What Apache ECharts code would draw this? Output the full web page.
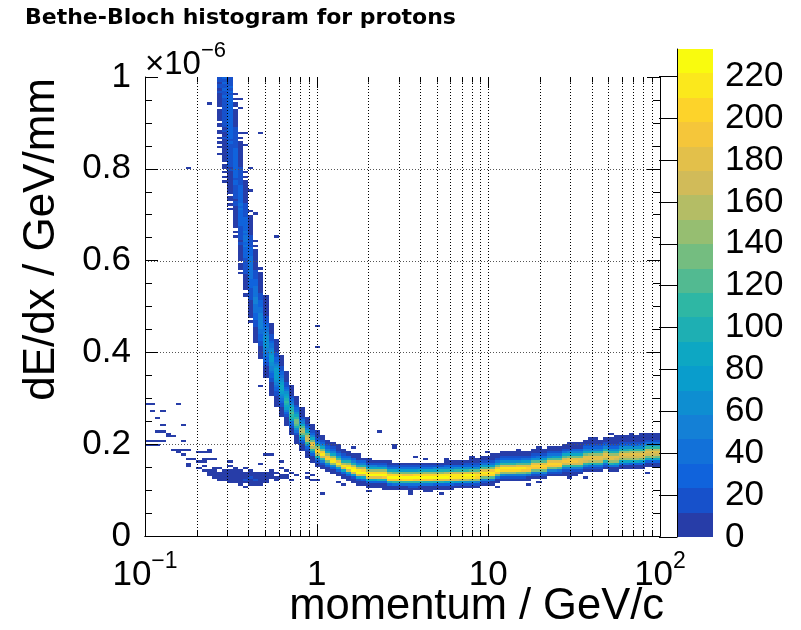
<!DOCTYPE html>
<html><head><meta charset="utf-8">
<script src="https://cdn.jsdelivr.net/npm/echarts@6/dist/echarts.min.js"></script>
<style>html,body{margin:0;padding:0;background:#fff}#c{width:801px;height:630px}</style>
</head><body><div id="c"></div>
<script>
// ---------------- data ----------------
const titleText = 'Bethe-Bloch histogram for protons';
const xTitle = 'momentum / GeV/c';
const yTitle = 'dE/dx / GeV/mm';
const nXBins = 100, xMin = 0.1, xMax = 100;      // log-uniform momentum bins
const nYBins = 200, yMin = 0, yMaxVal = 1.0;     // dE/dx in units of 1e-6 GeV/mm
const zMax = 233, nLevels = 20;                  // colour scale
const xMajorTicks = [0.1, 1, 10, 100];
const xMinorTicks = [0.2,0.3,0.4,0.5,0.6,0.7,0.8,0.9,2,3,4,5,6,7,8,9,20,30,40,50,60,70,80,90];
const yGridValues = [0.2, 0.4, 0.6, 0.8];
const zTickValues = [0,20,40,60,80,100,120,140,160,180,200,220];

// main band: one entry per momentum bin, starting at bin bandFirstCol
const bandFirstCol = 14;
const bandStart = [166,154,142,130,114,104,93,84,77,69,61,56,52,48,44,40,37,34,32,30,29,28,27,26,25,24,23,22,22,21,21,21,
  20,20,20,20,20,19,20,20,20,20,20,20,20,20,21,21,21,21,21,22,22,22,23,24,24,24,24,24,24,25,25,25,26,26,26,26,26,26,27,28,28,28,28,29,28,28,29,29,29,29,29,30,30,30];
const bandCounts = [
 [2,0,0,3,0,1,0,4,0,2,5,0,3,6,0,4,7,2,5,8,0,6,9,4,11,7,10,13,8,12,15,10,14,17],
 [1,0,2,0,3,0,2,4,0,5,3,6,4,8,5,7,10,6,9,12,8,11,14,10,13,16,12,15,18,14,17,20,15,19,22,17,21,24,18,22,25,20,23,26,21,24],
 [1,0,2,0,1,3,0,4,2,5,3,6,8,5,9,7,11,13,10,14,12,16,18,15,19,17,21,23,20,24,22,26,28,24,27,25,29,27,30,26,28,31,27,29,25,28,30,26,24,27,23,25,22,24,20,23,21,22],
 [1,0,2,0,3,1,4,2,5,7,4,8,10,7,12,14,11,16,18,15,20,22,19,24,26,23,28,30,27,31,33,29,32,30,27,29,26,24,27,22,20,23,18,16,19,14,12,15,10,8,11,6,5,7,3,4,0,2,3,0,1,0,2],
 [1,0,2,1,3,0,4,3,6,5,8,7,10,12,11,15,17,16,20,22,21,25,27,26,30,32,31,34,36,33,35,32,34,30,31,27,28,24,25,21,22,18,19,15,16,12,13,10,9,7,8,5,6,3,4,2,3,1,0,2,0,1,0],
 [1,2,0,3,4,6,5,8,10,9,13,15,14,18,20,22,21,25,28,27,31,33,35,34,38,36,37,34,35,31,32,28,29,25,24,21,20,17,16,13,12,10,9,7,6,5,3,4,2,1,2,0,1,0,1],
 [1,0,2,3,5,4,7,9,11,10,14,16,19,18,23,26,28,31,33,36,38,40,42,41,43,39,40,36,35,31,29,26,24,21,19,16,14,12,10,8,6,5,4,3,2,2,1,0,1,0],
 [1,2,3,4,6,8,11,14,17,21,24,28,32,36,40,43,46,48,47,49,46,44,41,39,35,32,29,25,22,19,16,13,11,9,7,5,4,3,2,1,2,0,1,0,1],
 [1,2,3,5,8,11,15,19,24,29,34,39,44,49,52,55,56,54,51,48,44,40,36,32,28,24,20,17,14,11,9,7,5,4,3,2,1,1,0,1],
 [1,2,4,6,9,13,18,24,30,37,44,51,57,62,65,66,64,60,55,49,43,37,31,26,21,17,13,10,8,6,4,3,2,1,1,1],
 [1,1,2,4,6,9,13,18,24,31,39,47,55,62,68,72,73,71,66,59,51,43,35,28,22,17,12,9,6,4,2,1],
 [1,2,3,5,8,12,18,25,34,44,54,64,72,78,80,77,70,61,51,42,33,26,19,14,10,7,5,3,2,1],
 [1,2,4,7,12,19,29,41,55,69,81,90,93,90,81,69,56,44,33,24,17,12,8,5,3,2,1],
 [1,3,6,11,20,33,50,70,89,103,108,104,92,76,59,43,30,20,13,8,5,3,2,1],
 [1,3,7,14,27,46,70,95,114,122,116,99,78,57,39,25,15,9,5,3,2,1],
 [1,2,5,11,22,40,66,97,124,138,133,114,88,63,42,26,15,9,5,3,1],
 [1,3,7,16,34,62,100,138,158,150,122,88,58,35,20,11,6,3,1],
 [1,2,6,15,34,66,110,152,172,160,125,86,54,31,17,9,4,2],
 [1,4,11,28,60,110,162,190,175,134,90,55,31,16,8,4,2],
 [2,6,18,45,95,158,203,192,145,96,58,32,17,8,4,2],
 [2,7,20,50,108,172,212,190,138,88,52,28,14,6,3],
 [3,9,26,66,138,205,196,142,90,52,28,14,6,2],
 [2,8,24,64,140,212,200,140,86,48,25,12,5,2],
 [3,10,30,80,160,216,178,118,70,38,19,9,4,1],
 [2,11,34,92,180,218,162,98,55,29,14,6,2],
 [1,6,24,80,170,222,205,150,95,52,25,10,3],
 [1,5,22,75,165,224,210,155,98,54,26,10,3],
 [1,5,22,78,168,226,212,158,100,55,26,10,3],
 [2,6,24,82,172,224,208,152,96,52,24,8],
 [1,6,26,88,178,228,206,148,92,50,23,9,3],
 [2,7,28,92,182,229,204,144,88,47,21,8],
 [1,8,30,96,186,227,202,140,85,45,20,8],
 [1,3,10,34,104,190,225,206,142,88,46,20,7],
 [2,9,34,102,190,230,204,140,84,44,19,7,2],
 [2,10,36,106,194,229,200,136,82,42,18,6],
 [3,11,38,108,196,227,198,134,80,41,17,6],
 [2,10,37,110,198,231,196,132,78,40,17,6],
 [1,3,12,40,112,200,233,195,130,77,39,16,5],
 [3,12,39,108,195,229,199,135,81,42,18,6],
 [2,11,38,106,193,230,201,137,83,43,18,6],
 [3,11,36,104,191,228,204,140,85,44,19,7],
 [2,10,35,102,189,226,206,143,88,46,20,7],
 [2,9,33,98,186,225,209,147,91,48,21,8],
 [2,8,31,94,182,224,212,151,94,50,22,8],
 [1,7,28,88,176,222,216,158,99,53,24,9,3],
 [1,6,25,82,170,220,219,163,104,56,26,10,3],
 [5,22,76,164,218,220,168,108,59,28,11,4],
 [5,21,73,160,216,221,172,111,61,29,11,4],
 [4,19,69,156,214,222,176,114,63,30,12,4],
 [4,17,64,150,210,222,180,118,66,32,13,5,1],
 [2,12,52,140,206,220,182,122,69,34,14,5,1],
 [3,13,50,136,204,219,184,125,71,35,15,6,2],
 [3,12,47,132,202,218,186,128,73,36,15,6,2],
 [2,11,44,127,199,216,188,131,76,38,16,6,2],
 [2,10,40,120,194,214,190,134,78,40,17,7,2],
 [4,18,62,150,205,212,168,110,62,31,13,5,1],
 [3,16,58,146,203,213,171,113,64,32,14,5,1],
 [3,15,55,142,200,212,174,116,66,33,14,5,2],
 [3,14,52,138,198,211,177,119,68,34,15,6,2],
 [2,12,48,132,195,210,180,122,70,35,15,6,2],
 [2,11,45,128,192,208,182,125,72,36,16,6,2],
 [3,14,52,136,196,206,176,118,67,34,15,6,2],
 [3,13,50,133,194,206,178,121,69,35,15,6,2],
 [2,12,47,129,191,205,180,124,71,36,16,6,2],
 [3,14,52,134,193,203,175,120,68,35,15,6,2],
 [3,13,49,130,190,202,177,123,70,36,16,6,2],
 [2,12,46,126,187,201,179,126,72,37,16,6,2],
 [1,5,18,54,116,172,190,174,128,82,46,22,10,4],
 [1,5,17,52,113,170,189,176,131,84,47,23,10,4],
 [1,4,15,49,110,168,188,178,134,87,49,24,11,4,2],
 [4,16,50,110,166,186,178,134,88,50,25,11,5,2],
 [4,15,48,108,164,185,179,137,90,51,26,12,5,2],
 [3,14,45,104,161,184,180,140,92,53,27,12,5,2,1],
 [3,13,42,100,158,182,181,143,95,55,28,13,6,2,1],
 [4,14,44,102,158,180,179,144,96,56,29,14,6,2],
 [4,13,42,99,155,179,179,146,98,57,29,14,6,2],
 [2,11,38,95,151,176,180,148,100,59,30,14,6,3,1],
 [2,11,36,91,148,174,181,150,102,60,31,15,7,3,1],
 [2,11,37,92,148,173,179,149,101,60,31,15,7,3,1],
 [2,11,36,90,146,172,179,151,103,61,32,16,7,3,1],
 [2,10,34,87,143,170,179,153,105,63,33,16,7,3,1],
 [2,10,33,84,140,168,178,154,107,64,34,17,8,3,1],
 [1,9,31,80,136,166,178,156,109,66,35,17,8,3,1,1],
 [2,9,32,82,138,166,177,155,109,66,36,18,8,4,1],
 [2,10,33,84,140,167,176,154,108,65,35,17,8,3,1],
 [2,9,32,82,138,166,177,156,110,67,36,18,8,3,1]
];
// scattered cells: [momentum bin, dE/dx bin, count]
const extraCells = [
 [0,57,2],[1,57,1],[6,57,1],[1,54,3],[3,54,4],[2,51,3],[3,48,5],[7,48,4],[2,45,2],[3,45,2],[4,44,6],[4,43,5],[5,43,4],
 [0,41,3],[1,41,5],[2,41,4],[3,41,6],[7,41,3],[0,39,8],[1,39,7],[2,39,6],[5,37,5],[6,37,4],[6,36,6],[7,37,3],[8,37,3],[7,35,5],[8,33,4],[9,33,3],[8,31,6],[8,30,5],
 [10,36,4],[11,36,3],[12,36,4],[12,37,3],[10,32,3],[11,32,4],[11,33,2],[12,33,3],[13,33,4],[16,32,3],
 [10,29,4],[11,30,3],[13,29,5],[14,29,4],[16,30,3],[17,29,4],[19,29,3],
 [11,28,5],[12,28,4],[13,28,3],[15,28,6],[16,28,5],[17,28,4],[18,28,3],[20,28,5],
 [13,27,4],[14,26,6],[15,27,5],[16,26,7],[17,27,4],[18,26,6],[19,27,3],[20,26,5],[21,26,6],[22,27,4],[23,26,5],
 [14,25,5],[15,24,6],[16,25,8],[17,24,7],[18,25,9],[19,24,8],[20,25,10],[21,24,7],[22,25,9],[23,24,6],
 [17,23,4],[18,22,5],[19,23,6],[20,22,4],[21,23,5],[22,22,3],[19,21,2],
 [12,26,3],[13,25,4],[14,27,3],[15,25,5],[16,27,4],[17,26,6],[18,27,3],[19,25,7],[20,24,6],[21,25,8],[22,24,5],[23,25,6],
 [12,27,2],[13,26,3],[15,26,4],[17,25,5],[19,26,5],[21,27,4],[22,26,5],[23,23,3],[18,24,6],[16,24,5],[14,24,3],[20,23,4],
 [21,22,3],[22,23,4],[23,27,3],[18,23,4],[16,23,3],[20,27,4],[20,25,6],[21,24,5],[19,24,4],
 [24,28,4],[24,25,6],[25,27,5],[25,24,4],[26,26,6],[26,29,3],[27,25,4],[27,28,5],[28,24,3],[28,27,4],[29,26,3],[31,25,2],[32,26,3],[33,24,2],
 [24,26,4],[24,27,3],[25,25,5],[26,25,3],[27,26,3],
 [26,32,3],[24,35,2],[22,31,3],[34,18,2],
 [12,188,2],[22,175,3],[25,130,2],[8,160,2],[33,91,3],[33,82,4],[22,65,2],[23,35,3],
 [18,186,3],[18,190,2],[19,170,2],[19,175,3],[20,160,2],[20,150,3],[21,140,2],
 [45,45,2],[40,38,3],[48,38,3],[41,35,4],[43,19,2],[51,18,2],[54,19,2],[57,18,2],[31,27,3],[32,24,2],[37,23,2],[38,22,3],
 [48,39,2],[52,34,3],[54,33,3],[58,33,3],[63,34,2],[55,19,2],
 [90,44,2],[91,43,3],[94,44,2],[82,40,2],[76,38,2],[66,36,2],[67,35,3],[72,37,2],[85,25,2],[74,22,2],[76,23,2],[82,25,2],[97,27,2],[68,21,3]
];

// ---------------- palette (ROOT kBird, 20 contour levels) ----------------
const birdStops = [0,0.125,0.25,0.375,0.5,0.625,0.75,0.875,1];
const birdR = [0.2082,0.0592,0.0780,0.0232,0.1802,0.5301,0.8186,0.9956,0.9764];
const birdG = [0.1664,0.3599,0.5041,0.6419,0.7178,0.7492,0.7328,0.7862,0.9832];
const birdB = [0.5293,0.8684,0.8385,0.7914,0.6425,0.4662,0.3499,0.1968,0.0539];
function birdColor(t){
  let i = 0; while (i < birdStops.length-2 && t > birdStops[i+1]) i++;
  const f = (t - birdStops[i])/(birdStops[i+1]-birdStops[i]);
  const c = a => Math.round(255*(a[i] + (a[i+1]-a[i])*f));
  return 'rgb(' + c(birdR) + ',' + c(birdG) + ',' + c(birdB) + ')';
}
const levelColors = [];
for (let k = 0; k < nLevels; k++) levelColors.push(birdColor(Math.floor((k+0.99)*255/nLevels)/254));
const levelStep = zMax / nLevels;
function levelOf(z){ return Math.min(nLevels-1, Math.floor(0.01 + z/levelStep)); }

// ---------------- build histogram cells ----------------
const lxMin = Math.log10(xMin), lxMax = Math.log10(xMax);
const dlx = (lxMax-lxMin)/nXBins, dy = (yMaxVal-yMin)/nYBins;
const cellMap = new Map();
function addCell(ix, iy, n){ if (n <= 0) return; const key = ix*1000+iy; cellMap.set(key, (cellMap.get(key)||0)+n); }
bandCounts.forEach((col, c) => col.forEach((n, k) => addCell(bandFirstCol + c, bandStart[c] + k, n)));
extraCells.forEach(e => addCell(e[0], e[1], e[2]));
const cells = [];
cellMap.forEach((n, key) => {
  const ix = Math.floor(key/1000), iy = key % 1000;
  cells.push([Math.pow(10, lxMin + ix*dlx), Math.pow(10, lxMin + (ix+1)*dlx), yMin + iy*dy, yMin + (iy+1)*dy, n]);
});
const levelData = levelColors.map((c, k) => [0, 1, k*levelStep, (k+1)*levelStep, k]);
const xTickData = xMajorTicks.map(v => [v, 1]).concat(xMinorTicks.map(v => [v, 0]));
const yGridData = yGridValues.map(v => [xMin, v]);

// ---------------- chart ----------------
const FONT = "'Liberation Sans', Arial, Helvetica, sans-serif";
const chart = echarts.init(document.getElementById('c'));
const supRich = {
  b: {fontSize: 35, fontFamily: FONT, color: '#000', padding: [8,0,0,0]},
  s: {fontSize: 23, fontFamily: FONT, color: '#000', verticalAlign: 'top'}
};
chart.setOption({
  animation: false,
  backgroundColor: '#fff',
  grid: [
    {left: 145, right: 141, top: 77, bottom: 94, containLabel: false},
    {left: 677, right: 88, top: 49, bottom: 93, containLabel: false}
  ],
  xAxis: [
    {type: 'log', logBase: 10, min: xMin, max: xMax, gridIndex: 0, z: 10,
     axisLine: {show: true, lineStyle: {color: '#000', width: 1}}, axisTick: {show: false}, splitLine: {show: false},
     axisLabel: {margin: 14, color: '#000', fontSize: 35, fontFamily: FONT, rich: supRich,
       formatter: v => v <= 0.1001 ? '{b|10}{s|\u22121}' : (v >= 99.9 ? '{b|10}{s|2}' : '{b|' + Math.round(v) + '}')}},
    {type: 'log', logBase: 10, min: xMin, max: xMax, gridIndex: 0, position: 'top', z: 10,
     axisLine: {show: true, lineStyle: {color: '#000', width: 1}}, axisTick: {show: false}, axisLabel: {show: false}, splitLine: {show: false}},
    {type: 'value', min: 0, max: 1, gridIndex: 1, show: false}
  ],
  yAxis: [
    {type: 'value', min: yMin, max: yMaxVal, interval: 0.2, gridIndex: 0, z: 10,
     axisLine: {show: true, lineStyle: {color: '#000', width: 1}},
     axisTick: {show: true, inside: true, length: 13, lineStyle: {color: '#000'}},
     minorTick: {show: true, splitNumber: 4, length: 7, lineStyle: {color: '#000'}},
     splitLine: {show: false},
     axisLabel: {margin: 14, color: '#000', fontSize: 35, fontFamily: FONT,
       formatter: v => (Math.abs(v) < 1e-9 ? '0' : (Math.abs(v-1) < 1e-9 ? '1' : v.toFixed(1)))}},
    {type: 'value', min: yMin, max: yMaxVal, interval: 0.2, gridIndex: 0, position: 'right', z: 10,
     axisLine: {show: true, lineStyle: {color: '#000', width: 1}},
     axisTick: {show: true, inside: true, length: 13, lineStyle: {color: '#000'}},
     minorTick: {show: true, splitNumber: 4, length: 7, lineStyle: {color: '#000'}},
     splitLine: {show: false}, axisLabel: {show: false}},
    {type: 'value', min: 0, max: zMax, gridIndex: 1, position: 'right', z: 10,
     axisLine: {show: true, lineStyle: {color: '#000', width: 1}},
     axisTick: {show: true, inside: true, length: 18, customValues: zTickValues, lineStyle: {color: '#000'}},
     splitLine: {show: false},
     axisLabel: {margin: 12, color: '#000', fontSize: 35, fontFamily: FONT, customValues: zTickValues}}
  ],
  series: [
    {type: 'custom', name: 'counts', xAxisIndex: 0, yAxisIndex: 0, z: 2, clip: true,
     encode: {x: [0, 1], y: [2, 3]}, data: cells,
     renderItem: (params, api) => {
       const p0 = api.coord([api.value(0), api.value(3)]);
       const p1 = api.coord([api.value(1), api.value(2)]);
       const x0 = Math.round(p0[0]), y0 = Math.round(p0[1]), x1 = Math.round(p1[0]), y1 = Math.round(p1[1]);
       return {type: 'rect', shape: {x: x0, y: y0, width: Math.max(1, x1-x0), height: Math.max(1, y1-y0)},
               style: {fill: levelColors[levelOf(api.value(4))]}};
     }},
    {type: 'custom', name: 'xgrid', xAxisIndex: 0, yAxisIndex: 0, z: 5, silent: true,
     encode: {x: 0}, data: xTickData,
     renderItem: (params, api) => {
       const v = api.value(0), major = api.value(1);
       const t = api.coord([v, yMaxVal]), b = api.coord([v, yMin]);
       const x = Math.round(t[0]) + 0.5, len = major ? 11 : 5.5;
       const ch = [];
       if (v > xMin*1.001 && v < xMax*0.999)
         ch.push({type: 'line', shape: {x1: x, y1: t[1], x2: x, y2: b[1]}, style: {stroke: '#000', lineWidth: 1, lineDash: [1, 2]}});
       ch.push({type: 'line', shape: {x1: x, y1: b[1], x2: x, y2: b[1]-len}, style: {stroke: '#000', lineWidth: 1}});
       ch.push({type: 'line', shape: {x1: x, y1: t[1], x2: x, y2: t[1]+len}, style: {stroke: '#000', lineWidth: 1}});
       return {type: 'group', children: ch};
     }},
    {type: 'custom', name: 'ygrid', xAxisIndex: 0, yAxisIndex: 0, z: 5, silent: true,
     encode: {x: 0, y: 1}, data: yGridData,
     renderItem: (params, api) => {
       const a = api.coord([xMin, api.value(1)]), b = api.coord([xMax, api.value(1)]);
       const y = Math.round(a[1]) + 0.5;
       return {type: 'line', shape: {x1: a[0], y1: y, x2: b[0], y2: y}, style: {stroke: '#555', lineWidth: 1, lineDash: [1, 2]}};
     }},
    {type: 'custom', name: 'palette', xAxisIndex: 2, yAxisIndex: 2, z: 2,
     encode: {x: [0, 1], y: [2, 3]}, data: levelData,
     renderItem: (params, api) => {
       const p0 = api.coord([api.value(0), api.value(3)]);
       const p1 = api.coord([api.value(1), api.value(2)]);
       const y0 = Math.round(p0[1]), y1 = Math.round(p1[1]);
       return {type: 'rect', shape: {x: p0[0], y: y0, width: p1[0]-p0[0], height: y1-y0},
               style: {fill: levelColors[api.value(4)]}};
     }}
  ],
  graphic: [
    {type: 'text', left: 25, top: 7, style: {text: titleText, fontSize: 22, fontWeight: 'bold', fontFamily: "'DejaVu Sans', sans-serif", fill: '#000'}},
    {type: 'text', x: 145, y: 40, style: {text: '{m|\u00d710}{s|\u22126}', fill: '#000',
      rich: {m: {fontSize: 33, fontFamily: FONT, color: '#000', padding: [8,0,0,0]}, s: {fontSize: 22, fontFamily: FONT, color: '#000', verticalAlign: 'top'}}}},
    {type: 'text', x: 664, y: 607, style: {text: xTitle, fontSize: 43.5, fontFamily: FONT, fill: '#000', align: 'right', verticalAlign: 'middle'}},
    {type: 'text', x: 42, y: 78, rotation: Math.PI/2, style: {text: yTitle, fontSize: 44, fontFamily: FONT, fill: '#000', align: 'right', verticalAlign: 'middle'}}
  ]
});
</script>
</body></html>
